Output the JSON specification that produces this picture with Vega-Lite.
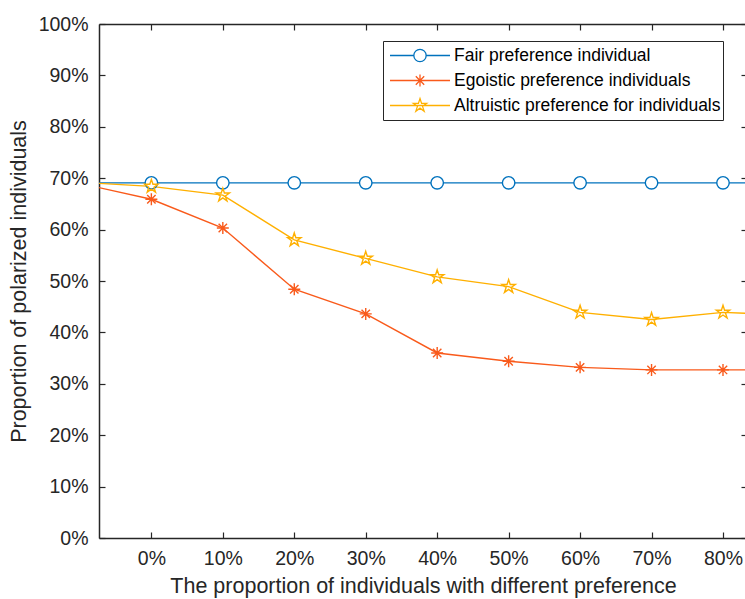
{
  "$schema": "https://vega.github.io/schema/vega-lite/v6.json",
  "width": 648,
  "height": 514,
  "autosize": {"type": "none"},
  "padding": {"left": 99, "top": 24, "right": 0, "bottom": 61},
  "background": "white",
  "config": {"view": {"stroke": null}, "font": "Liberation Sans"},
  "data": {"values": [
    {"x": -0.1, "y": 0.691, "s": "Fair preference individual"},
    {"x": 0.0, "y": 0.691, "s": "Fair preference individual"},
    {"x": 0.1, "y": 0.691, "s": "Fair preference individual"},
    {"x": 0.2, "y": 0.691, "s": "Fair preference individual"},
    {"x": 0.3, "y": 0.691, "s": "Fair preference individual"},
    {"x": 0.4, "y": 0.691, "s": "Fair preference individual"},
    {"x": 0.5, "y": 0.691, "s": "Fair preference individual"},
    {"x": 0.6, "y": 0.691, "s": "Fair preference individual"},
    {"x": 0.7, "y": 0.691, "s": "Fair preference individual"},
    {"x": 0.8, "y": 0.691, "s": "Fair preference individual"},
    {"x": 0.9, "y": 0.691, "s": "Fair preference individual"},
    {"x": -0.1, "y": 0.690, "s": "Egoistic preference individuals"},
    {"x": 0.0, "y": 0.659, "s": "Egoistic preference individuals"},
    {"x": 0.1, "y": 0.603, "s": "Egoistic preference individuals"},
    {"x": 0.2, "y": 0.484, "s": "Egoistic preference individuals"},
    {"x": 0.3, "y": 0.436, "s": "Egoistic preference individuals"},
    {"x": 0.4, "y": 0.360, "s": "Egoistic preference individuals"},
    {"x": 0.5, "y": 0.344, "s": "Egoistic preference individuals"},
    {"x": 0.6, "y": 0.332, "s": "Egoistic preference individuals"},
    {"x": 0.7, "y": 0.327, "s": "Egoistic preference individuals"},
    {"x": 0.8, "y": 0.327, "s": "Egoistic preference individuals"},
    {"x": 0.9, "y": 0.327, "s": "Egoistic preference individuals"},
    {"x": -0.1, "y": 0.692, "s": "Altruistic preference for individuals"},
    {"x": 0.0, "y": 0.684, "s": "Altruistic preference for individuals"},
    {"x": 0.1, "y": 0.667, "s": "Altruistic preference for individuals"},
    {"x": 0.2, "y": 0.580, "s": "Altruistic preference for individuals"},
    {"x": 0.3, "y": 0.544, "s": "Altruistic preference for individuals"},
    {"x": 0.4, "y": 0.508, "s": "Altruistic preference for individuals"},
    {"x": 0.5, "y": 0.489, "s": "Altruistic preference for individuals"},
    {"x": 0.6, "y": 0.439, "s": "Altruistic preference for individuals"},
    {"x": 0.7, "y": 0.425, "s": "Altruistic preference for individuals"},
    {"x": 0.8, "y": 0.439, "s": "Altruistic preference for individuals"},
    {"x": 0.9, "y": 0.433, "s": "Altruistic preference for individuals"}
  ]},
  "layer": [
    {
      "mark": {"type": "line", "clip": true, "strokeWidth": 1.4},
      "encoding": {
        "x": {"field": "x", "type": "quantitative",
          "scale": {"domain": [-0.0733, 0.8336], "nice": false, "zero": false},
          "axis": {"orient": "bottom", "values": [0, 0.1, 0.2, 0.3, 0.4, 0.5, 0.6, 0.7, 0.8], "format": ".0%",
            "grid": false, "tickSize": -6, "tickColor": "#262626", "tickWidth": 1.2,
            "domainColor": "#262626", "domainWidth": 1.5,
            "labelFont": "Liberation Sans", "labelFontSize": 19.5, "labelColor": "#262626", "labelPadding": 17,
            "title": "The proportion of individuals with different preference",
            "titleFont": "Liberation Sans", "titleFontSize": 21.5, "titleFontWeight": "normal", "titleColor": "#262626", "titlePadding": 8}},
        "y": {"field": "y", "type": "quantitative",
          "scale": {"domain": [0, 1], "nice": false},
          "axis": {"orient": "left", "values": [0, 0.1, 0.2, 0.3, 0.4, 0.5, 0.6, 0.7, 0.8, 0.9, 1], "format": ".0%",
            "grid": false, "tickSize": -6, "tickColor": "#262626", "tickWidth": 1.2,
            "domainColor": "#262626", "domainWidth": 1.5,
            "labelFont": "Liberation Sans", "labelFontSize": 19.5, "labelColor": "#262626", "labelPadding": 17,
            "title": "Proportion of polarized individuals",
            "titleFont": "Liberation Sans", "titleFontSize": 21.5, "titleFontWeight": "normal", "titleColor": "#262626", "titlePadding": 8}},
        "color": {"field": "s", "type": "nominal",
          "scale": {"domain": ["Fair preference individual", "Egoistic preference individuals", "Altruistic preference for individuals"],
            "range": ["#0072BD", "#F95A1B", "#FFB000"]},
          "legend": {
            "orient": "none", "legendX": 284, "legendY": 17, "title": null,
            "padding": 2, "strokeColor": "#262626", "fillColor": "white",
            "labelFont": "Liberation Sans", "labelFontSize": 17.5, "labelColor": "#000000",
            "labelLimit": 0,
            "symbolSize": 3600, "clipHeight": 25, "rowPadding": 0, "symbolOffset": 4, "labelOffset": 3,
            "symbolStrokeWidth": 1.3,
            "encode": {"symbols": {"update": {
              "shape": {"signal": "datum.value === 'Fair preference individual' ? 'M-1,0L-0.206,0M0.206,0L1,0M0.206,0A0.206,0.206,0,1,1,-0.206,0A0.206,0.206,0,1,1,0.206,0' : datum.value === 'Egoistic preference individuals' ? 'M-1,0L1,0M0,-0.2L0,0.2M-0.14,-0.14L0.14,0.14M-0.14,0.14L0.14,-0.14' : 'M-1,0L1,0M0,-0.234L0.053,-0.072L0.223,-0.072L0.085,0.028L0.138,0.189L0,0.089L-0.138,0.189L-0.085,0.028L-0.223,-0.072L-0.053,-0.072Z'"},
              "fill": {"value": "transparent"},
              "stroke": {"scale": "color", "field": "value"},
              "opacity": {"value": 1}
            }}}
          }}
      }
    },
    {
      "transform": [{"filter": "datum.s === 'Fair preference individual'"}],
      "mark": {"type": "point", "clip": true, "filled": false, "fill": "white", "strokeWidth": 1.4, "size": 156, "opacity": 1,
        "shape": "M1,0A1,1,0,1,1,-1,0A1,1,0,1,1,1,0Z"},
      "encoding": {
        "x": {"field": "x", "type": "quantitative", "axis": null},
        "y": {"field": "y", "type": "quantitative", "axis": null},
        "color": {"field": "s", "type": "nominal"}
      }
    },
    {
      "transform": [{"filter": "datum.s === 'Egoistic preference individuals'"}],
      "mark": {"type": "point", "clip": true, "filled": false, "strokeWidth": 1.4, "size": 144, "opacity": 1,
        "shape": "M-1,0L1,0M0,-1L0,1M-0.7,-0.7L0.7,0.7M-0.7,0.7L0.7,-0.7"},
      "encoding": {
        "x": {"field": "x", "type": "quantitative", "axis": null},
        "y": {"field": "y", "type": "quantitative", "axis": null},
        "color": {"field": "s", "type": "nominal"}
      }
    },
    {
      "transform": [{"filter": "datum.s === 'Altruistic preference for individuals'"}],
      "mark": {"type": "point", "clip": true, "filled": false, "strokeWidth": 1.4, "size": 144, "opacity": 1,
        "shape": "M0,-1.17L0.263,-0.362L1.113,-0.362L0.425,0.138L0.688,0.947L0,0.447L-0.688,0.947L-0.425,0.138L-1.113,-0.362L-0.263,-0.362Z"},
      "encoding": {
        "x": {"field": "x", "type": "quantitative", "axis": null},
        "y": {"field": "y", "type": "quantitative", "axis": null},
        "color": {"field": "s", "type": "nominal"}
      }
    },
    {
      "mark": {"type": "point", "clip": true, "opacity": 0},
      "encoding": {
        "x": {"field": "x", "type": "quantitative",
          "axis": {"orient": "top", "values": [0, 0.1, 0.2, 0.3, 0.4, 0.5, 0.6, 0.7, 0.8], "labels": false, "title": null,
            "grid": false, "tickSize": -6, "tickColor": "#262626", "tickWidth": 1.2, "domainColor": "#262626", "domainWidth": 1.5}},
        "y": {"field": "y", "type": "quantitative",
          "axis": {"orient": "right", "values": [0, 0.1, 0.2, 0.3, 0.4, 0.5, 0.6, 0.7, 0.8, 0.9, 1], "labels": false, "title": null,
            "grid": false, "tickSize": -6, "tickColor": "#262626", "tickWidth": 1.2, "domainColor": "#262626", "domainWidth": 1.5}}
      }
    }
  ],
  "resolve": {"axis": {"x": "independent", "y": "independent"}}
}
